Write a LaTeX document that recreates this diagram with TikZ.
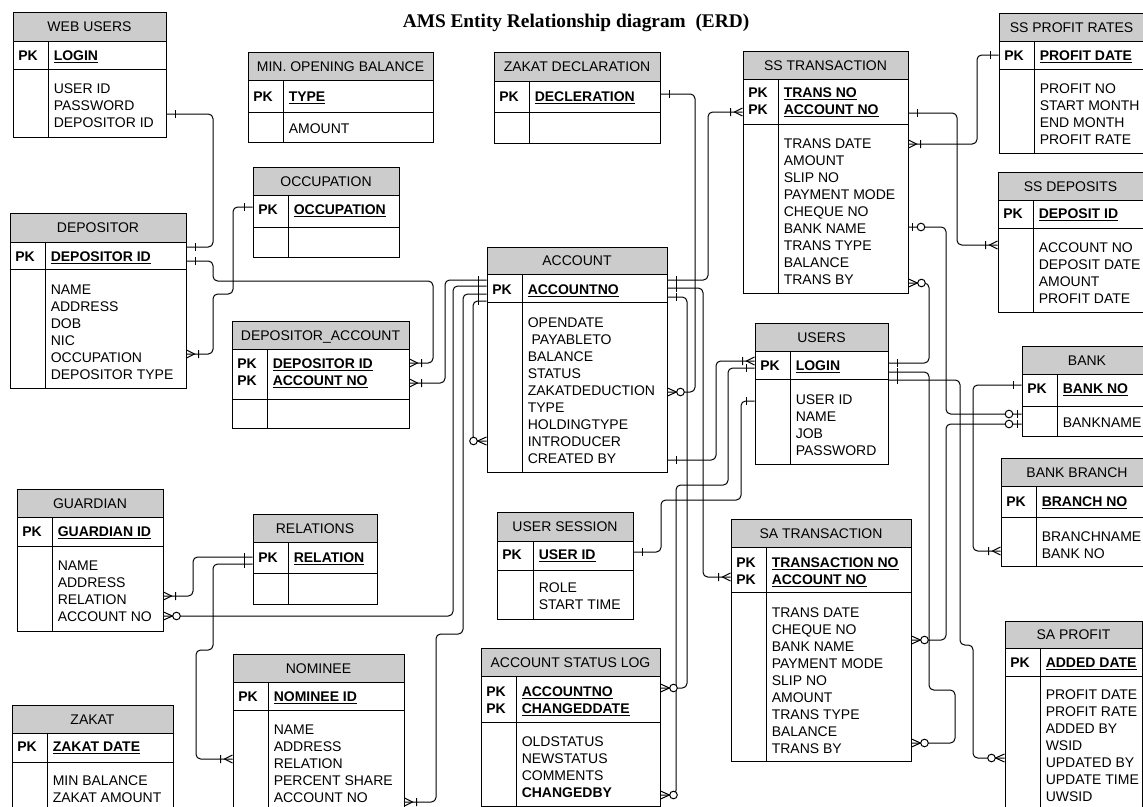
\documentclass[tikz,border=0pt]{standalone}
\usepackage{fontspec}
\setmainfont{Liberation Sans}
\newfontfamily\titlefont{Liberation Serif}
\usetikzlibrary{positioning}

% underlined key field
\newsavebox\keybox
\newcommand\ulkey[1]{\sbox\keybox{#1}\rlap{\rule[-2pt]{\wd\keybox}{0.8pt}}\usebox\keybox}

\tikzset{
  erfont/.style={font=\fontsize{10.5}{12.6}\selectfont},
  hdrfill/.style={fill=black!20},
  entbox/.style={draw, line width=0.75pt, inner sep=0pt},
  entline/.style={line width=0.75pt},
  hdrtext/.style={erfont, anchor=base, inner sep=0pt},
  pktext/.style={erfont, font=\fontsize{10.5}{12.6}\selectfont\bfseries, anchor=base west, inner sep=0pt},
  attrtext/.style={erfont, anchor=base west, inner sep=0pt},
  titletext/.style={font=\fontsize{14.5}{17}\selectfont\titlefont\bfseries, anchor=base, inner sep=0pt},
  rel/.style={line width=0.75pt, rounded corners=3.5pt},
  tipline/.style={line width=0.75pt},
  lft/.style={xscale=-1},
  pics/tickone/.style={code={\draw[tipline] (8.5,-4) -- (8.5,4);}},
  pics/crowbar/.style={code={\draw[tipline] (0,-4) -- (8,0) -- (0,4) (12,-4) -- (12,4);}},
  pics/crowring/.style={code={\draw[tipline] (0,-4) -- (9,0) -- (0,4);
      \draw[tipline, fill=white] (13,0) circle[radius=2.85pt];}},
  pics/ringbar/.style={code={\draw[tipline] (4,-4) -- (4,4);
      \draw[tipline, fill=white] (12.5,0) circle[radius=2.85pt];}},
}

% #1 name, #2 left, #3 top, #4 right, #5 bottom, #6 header bottom, #7 key row bottom, #8 divider, #9 title
\newcommand\erbox[9]{%
  \fill[hdrfill] (#2,#3) rectangle (#4,#6);
  \node[entbox, minimum width={(#4-#2)*0.75pt}, minimum height={(#5-#3)*0.75pt}] (#1) at ({(#2+#4)/2},{(#3+#5)/2}) {};
  \draw[entline] (#2,#6) -- (#4,#6) (#2,#7) -- (#4,#7) (#8,#6) -- (#8,#5);
  \node[hdrtext] (#1-head) at ({(#2+#4)/2},{(#3+#6)/2+5}) {#9};
}
% #1 name, #2 left, #3 divider, #4 first line, #5 keys
\newcommand\erkeys[5]{%
  \foreach \k [count=\i] in {#5} {
    \node[pktext] (#1-pk\i) at (#2+5,{#4+17*(\i-1)+5}) {PK};
    \node[pktext] (#1-key\i) at (#3+5.5,{#4+17*(\i-1)+5}) {\ulkey{\k}};
  }
}
% #1 name, #2 divider, #3 first line, #4 fields
\newcommand\erattrs[4]{%
  \foreach \a [count=\i] in {#4}
    \node[attrtext] (#1-at\i) at (#2+5.5,{#3+17*(\i-1)+5}) {\a};
}

\begin{document}
\begin{tikzpicture}[x=0.75pt, y=-0.75pt]
\path[use as bounding box, fill=white] (0,0) rectangle (1143,807);
\clip (0,0) rectangle (1143,807);

\node[titletext] (title) at (576,27) {AMS Entity Relationship diagram\ \ (ERD)};

% left column
\erbox{webusers}{13}{12}{166}{137}{41}{69}{48}{WEB USERS}
\erkeys{webusers}{13}{48}{55}{LOGIN}
\erattrs{webusers}{48}{88}{USER ID, PASSWORD, DEPOSITOR ID}

\erbox{depositor}{10}{213}{186}{388}{242}{269}{45}{DEPOSITOR}
\erkeys{depositor}{10}{45}{256}{DEPOSITOR ID}
\erattrs{depositor}{45}{289}{NAME, ADDRESS, DOB, NIC, OCCUPATION, DEPOSITOR TYPE}

\erbox{guardian}{17}{489}{163}{631}{517}{546}{52}{GUARDIAN}
\erkeys{guardian}{17}{52}{531}{GUARDIAN ID}
\erattrs{guardian}{52}{565}{NAME, ADDRESS, RELATION, ACCOUNT NO}

\erbox{zakat}{12}{705}{173}{812}{733}{762}{47}{ZAKAT}
\erkeys{zakat}{12}{47}{746}{ZAKAT DATE}
\erattrs{zakat}{47}{780}{MIN BALANCE, ZAKAT AMOUNT}

% second column
\erbox{minbal}{248}{52}{433}{142}{80}{112}{283}{MIN. OPENING BALANCE}
\erkeys{minbal}{248}{283}{96}{TYPE}
\erattrs{minbal}{283}{128}{AMOUNT}

\erbox{occupation}{253}{167}{399}{257}{195}{227}{288}{OCCUPATION}
\erkeys{occupation}{253}{288}{209}{OCCUPATION}

\erbox{depacc}{232}{321}{409}{428}{349}{399}{267}{DEPOSITOR\_ACCOUNT}
\erkeys{depacc}{232}{267}{363}{DEPOSITOR ID, ACCOUNT NO}

\erbox{relations}{253}{514}{377}{604}{542}{573}{288}{RELATIONS}
\erkeys{relations}{253}{288}{557}{RELATION}

\erbox{nominee}{233}{654}{404}{812}{682}{710}{268}{NOMINEE}
\erkeys{nominee}{233}{268}{696}{NOMINEE ID}
\erattrs{nominee}{268}{729}{NAME, ADDRESS, RELATION, PERCENT SHARE, ACCOUNT NO}

% middle
\erbox{zakatdecl}{494}{52}{660}{143}{81}{112}{529}{ZAKAT DECLARATION}
\erkeys{zakatdecl}{494}{529}{96}{DECLERATION}

\erbox{account}{487}{247}{667}{472}{274}{302}{522}{ACCOUNT}
\erkeys{account}{487}{522}{289}{ACCOUNTNO}
\erattrs{account}{522}{322}{OPENDATE, {\ PAYABLETO}, BALANCE, STATUS, ZAKATDEDUCTION, TYPE, HOLDINGTYPE, INTRODUCER, CREATED BY}

\erbox{usersession}{497}{512}{633}{619}{541}{570}{533}{USER SESSION}
\erkeys{usersession}{497}{533}{554}{USER ID}
\erattrs{usersession}{533}{587}{ROLE, START TIME}

\erbox{asl}{481}{648}{660}{806}{676}{722}{516}{ACCOUNT STATUS LOG}
\erkeys{asl}{481}{516}{691}{ACCOUNTNO, CHANGEDDATE}
\erattrs{asl}{516}{741}{OLDSTATUS, NEWSTATUS, COMMENTS, {\bfseries CHANGEDBY}}

% right half
\erbox{sstrans}{743}{51}{908}{293}{79}{124}{778}{SS TRANSACTION}
\erkeys{sstrans}{743}{778}{92}{TRANS NO, ACCOUNT NO}
\erattrs{sstrans}{778}{143}{TRANS DATE, AMOUNT, SLIP NO, PAYMENT MODE, CHEQUE NO, BANK NAME, TRANS TYPE, BALANCE, TRANS BY}

\erbox{users}{755}{323}{888}{464}{351}{379}{790}{USERS}
\erkeys{users}{755}{790}{365}{LOGIN}
\erattrs{users}{790}{399}{USER ID, NAME, JOB, PASSWORD}

\erbox{satrans}{731}{519}{911}{761}{547}{592}{766}{SA TRANSACTION}
\erkeys{satrans}{731}{766}{562}{TRANSACTION NO, ACCOUNT NO}
\erattrs{satrans}{766}{612}{TRANS DATE, CHEQUE NO, BANK NAME, PAYMENT MODE, SLIP NO, AMOUNT, TRANS TYPE, BALANCE, TRANS BY}

\erbox{ssprofit}{999}{13}{1144}{153}{41}{69}{1034}{SS PROFIT RATES}
\erkeys{ssprofit}{999}{1034}{55}{PROFIT DATE}
\erattrs{ssprofit}{1034}{88}{PROFIT NO, START MONTH, END MONTH, PROFIT RATE}

\erbox{ssdeposits}{998}{172}{1143}{312}{200}{228}{1033}{SS DEPOSITS}
\erkeys{ssdeposits}{998}{1033}{213}{DEPOSIT ID}
\erattrs{ssdeposits}{1033}{247}{ACCOUNT NO, DEPOSIT DATE, AMOUNT, PROFIT DATE}

\erbox{bank}{1022}{346}{1152}{436}{374}{406}{1057}{BANK}
\erkeys{bank}{1022}{1057}{388}{BANK NO}
\erattrs{bank}{1057}{422}{BANKNAME}

\erbox{bankbranch}{1001}{458}{1153}{566}{486}{517}{1036}{BANK BRANCH}
\erkeys{bankbranch}{1001}{1036}{501}{BRANCH NO}
\erattrs{bankbranch}{1036}{536}{BRANCHNAME, BANK NO}

\erbox{saprofit}{1005}{621}{1142}{815}{648}{676}{1040}{SA PROFIT}
\erkeys{saprofit}{1005}{1040}{662}{ADDED DATE}
\erattrs{saprofit}{1040}{694}{PROFIT DATE, PROFIT RATE, ADDED BY, WSID, UPDATED BY, UPDATE TIME, UWSID}

% relationships
\draw[rel] (webusers.east |- 0,114) -- (213,114) -- (213,247) -- (depositor.east |- 0,247);
\draw[rel] (depositor.east |- 0,261) -- (213,261) -- (213,281) -- (433,281) -- (433,363) -- (depacc.east |- 0,363);
\draw[rel] (depositor.east |- 0,354) -- (213,354) -- (213,294) -- (233,294) -- (233,207) -- (occupation.west |- 0,207);
\draw[rel] (depacc.east |- 0,383) -- (445,383) -- (445,280) -- (account.west |- 0,280);
\draw[rel] (guardian.east |- 0,616) -- (453,616) -- (453,286) -- (account.west |- 0,286);
\draw[rel] (nominee.east |- 0,802) -- (436,802) -- (436,634) -- (463,634) -- (463,294) -- (account.west |- 0,294);
\draw[rel] (account.west |- 0,301) -- (473,301) -- (473,441) -- (account.west |- 0,441);
\draw[rel] (relations.west |- 0,557) -- (193,557) -- (193,596) -- (guardian.east |- 0,596);
\draw[rel] (relations.west |- 0,564) -- (213,564) -- (213,650) -- (196,650) -- (196,759) -- (nominee.west |- 0,759);

\draw[rel] (account.east |- 0,280) -- (708,280) -- (708,112) -- (sstrans.west |- 0,112);
\draw[rel] (account.east |- 0,288) -- (703,288) -- (703,577) -- (satrans.west |- 0,577);
\draw[rel] (account.east |- 0,297) -- (687,297) -- (687,688) -- (asl.east |- 0,688);
\draw[rel] (zakatdecl.east |- 0,94) -- (695,94) -- (695,392) -- (account.east |- 0,392);
\draw[rel] (account.east |- 0,460) -- (716,460) -- (716,361) -- (users.west |- 0,361);
\draw[rel] (users.west |- 0,368) -- (728,368) -- (728,485) -- (676,485) -- (676,795) -- (asl.east |- 0,795);
\draw[rel] (users.west |- 0,401) -- (741,401) -- (741,500) -- (661,500) -- (661,552) -- (usersession.east |- 0,552);

\draw[rel] (sstrans.east |- 0,283) -- (929,283) -- (929,363) -- (users.east |- 0,363);
\draw[rel] (users.east |- 0,372) -- (929,372) -- (929,690) -- (955,690) -- (955,743) -- (satrans.east |- 0,743);
\draw[rel] (users.east |- 0,380) -- (960,380) -- (960,645) -- (973,645) -- (973,758) -- (saprofit.west |- 0,758);
\draw[rel] (sstrans.east |- 0,227) -- (946,227) -- (946,414) -- (bank.west |- 0,414);
\draw[rel] (satrans.east |- 0,640) -- (946,640) -- (946,424) -- (bank.west |- 0,424);
\draw[rel] (bank.west |- 0,385) -- (973,385) -- (973,551) -- (bankbranch.west |- 0,551);
\draw[rel] (sstrans.east |- 0,113) -- (957,113) -- (957,245) -- (ssdeposits.west |- 0,245);
\draw[rel] (ssprofit.west |- 0,55) -- (977,55) -- (977,144) -- (sstrans.east |- 0,144);

% line ends
\pic at (webusers.east |- 0,114) {tickone};
\pic at (depositor.east |- 0,247) {tickone};
\pic at (depositor.east |- 0,261) {tickone};
\pic at (depacc.east |- 0,363) {crowbar};
\pic at (depositor.east |- 0,354) {crowbar};
\pic[lft] at (occupation.west |- 0,207) {tickone};
\pic at (depacc.east |- 0,383) {crowbar};
\pic[lft] at (account.west |- 0,280) {tickone};
\pic at (guardian.east |- 0,616) {crowring};
\pic[lft] at (account.west |- 0,286) {tickone};
\pic at (nominee.east |- 0,802) {crowbar};
\pic[lft] at (account.west |- 0,294) {tickone};
\pic[lft] at (account.west |- 0,301) {tickone};
\pic[lft] at (account.west |- 0,441) {crowring};
\pic[lft] at (relations.west |- 0,557) {tickone};
\pic at (guardian.east |- 0,596) {crowbar};
\pic[lft] at (relations.west |- 0,564) {tickone};
\pic[lft] at (nominee.west |- 0,759) {crowbar};

\pic at (account.east |- 0,280) {tickone};
\pic[lft] at (sstrans.west |- 0,112) {crowbar};
\pic at (account.east |- 0,288) {tickone};
\pic[lft] at (satrans.west |- 0,577) {crowbar};
\pic at (account.east |- 0,297) {tickone};
\pic at (asl.east |- 0,688) {crowring};
\pic at (zakatdecl.east |- 0,94) {tickone};
\pic at (account.east |- 0,392) {crowring};
\pic at (account.east |- 0,460) {tickone};
\pic[lft] at (users.west |- 0,361) {crowbar};
\pic[lft] at (users.west |- 0,368) {tickone};
\pic at (asl.east |- 0,795) {crowring};
\pic[lft] at (users.west |- 0,401) {tickone};
\pic at (usersession.east |- 0,552) {tickone};

\pic at (sstrans.east |- 0,283) {crowring};
\pic at (users.east |- 0,363) {tickone};
\pic at (users.east |- 0,372) {tickone};
\pic at (satrans.east |- 0,743) {crowring};
\pic at (users.east |- 0,380) {tickone};
\pic[lft] at (saprofit.west |- 0,758) {crowring};
\pic at (sstrans.east |- 0,227) {ringbar};
\pic[lft] at (bank.west |- 0,414) {ringbar};
\pic at (satrans.east |- 0,640) {crowring};
\pic[lft] at (bank.west |- 0,424) {ringbar};
\pic[lft] at (bank.west |- 0,385) {tickone};
\pic[lft] at (bankbranch.west |- 0,551) {crowbar};
\pic at (sstrans.east |- 0,113) {tickone};
\pic[lft] at (ssdeposits.west |- 0,245) {crowbar};
\pic[lft] at (ssprofit.west |- 0,55) {tickone};
\pic at (sstrans.east |- 0,144) {crowbar};
\end{tikzpicture}
\end{document}
